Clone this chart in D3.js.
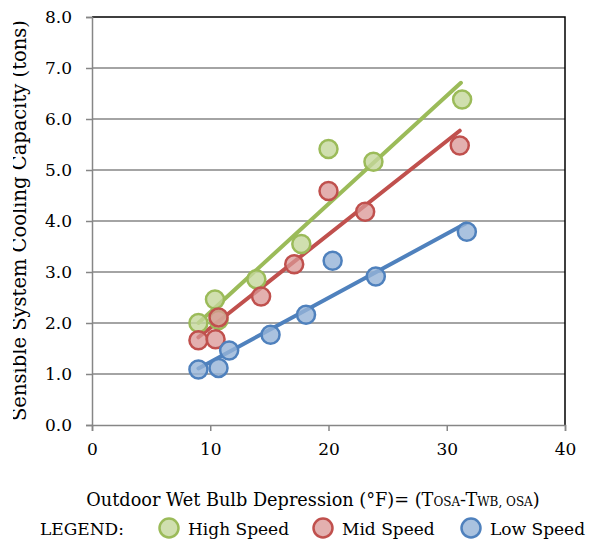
<!DOCTYPE html>
<html>
<head>
<meta charset="utf-8">
<script src="https://cdn.jsdelivr.net/npm/d3@7"></script>
<style>
  body { margin: 0; background: #fff; }
  text { font-family: "DejaVu Serif", serif; fill: #000; }
</style>
</head>
<body>
<script>
// series: x = wet bulb depression (F), y = tons
const highX = [9.0, 10.4, 10.7, 13.9, 17.7, 20.0, 23.8, 31.3];
const highY = [2.0, 2.46, 2.06, 2.86, 3.55, 5.41, 5.16, 6.38];
const midX = [9.0, 10.45, 10.7, 14.3, 17.1, 20.0, 23.1, 31.1];
const midY = [1.66, 1.68, 2.11, 2.52, 3.15, 4.59, 4.18, 5.48];
const lowX = [9.0, 10.7, 11.6, 15.1, 18.1, 20.35, 24.0, 31.7];
const lowY = [1.09, 1.12, 1.46, 1.77, 2.16, 3.22, 2.91, 3.79];

// trend line end points
const highTrend = [[9.0, 2.0], [31.2, 6.71]];
const midTrend = [[9.0, 1.72], [31.1, 5.77]];
const lowTrend = [[9.0, 1.11], [31.6, 3.95]];

const xTicks = [0, 10, 20, 30, 40];
const yTicks = [0, 1, 2, 3, 4, 5, 6, 7, 8];
const seriesNames = ["High Speed", "Mid Speed", "Low Speed"];

const width = 589, height = 542;
const margin = {top: 17, right: 24, bottom: 117, left: 92};

const series = [
  {name: seriesNames[0], xs: highX, ys: highY, trend: highTrend, stroke: "#9bbb59", fill: "rgba(196,215,155,0.8)"},
  {name: seriesNames[1], xs: midX, ys: midY, trend: midTrend, stroke: "#c0504d", fill: "rgba(217,150,148,0.75)"},
  {name: seriesNames[2], xs: lowX, ys: lowY, trend: lowTrend, stroke: "#4f81bd", fill: "rgba(149,179,215,0.8)"}
];

const svg = d3.select("body").append("svg")
    .attr("width", width)
    .attr("height", height);

const x = d3.scaleLinear().domain([0, 40]).range([margin.left, width - margin.right]);
const y = d3.scaleLinear().domain([0, 8]).range([height - margin.bottom, margin.top]);

// gridlines
svg.append("g")
  .selectAll("line")
  .data(yTicks.slice(1, -1))
  .join("line")
    .attr("x1", x(0)).attr("x2", x(40))
    .attr("y1", d => y(d)).attr("y2", d => y(d))
    .attr("stroke", "#868686")
    .attr("stroke-width", 1.5);

// top + right border (black)
svg.append("path")
    .attr("d", `M${x(0)},${y(8)}H${x(40)}V${y(0)}`)
    .attr("fill", "none")
    .attr("stroke", "#000")
    .attr("stroke-width", 1.5);

// y axis
const yAxis = svg.append("g")
    .attr("transform", `translate(${x(0)},0)`)
    .call(d3.axisLeft(y).tickValues(yTicks).tickFormat(d3.format(".1f")).tickSize(6).tickPadding(14));
yAxis.select(".domain").attr("stroke", "#868686").attr("stroke-width", 1.5);
yAxis.selectAll(".tick line").attr("stroke", "#868686").attr("stroke-width", 1.5);
yAxis.selectAll(".tick text").attr("font-size", 17).attr("font-family", "DejaVu Serif");

// x axis
const xAxis = svg.append("g")
    .attr("transform", `translate(0,${y(0)})`)
    .call(d3.axisBottom(x).tickValues(xTicks).tickSize(6).tickPadding(12));
xAxis.select(".domain").attr("stroke", "#868686").attr("stroke-width", 1.5);
xAxis.selectAll(".tick line").attr("stroke", "#868686").attr("stroke-width", 1.5);
xAxis.selectAll(".tick text").attr("font-size", 17).attr("font-family", "DejaVu Serif");

// trend lines
const line = d3.line().x(d => x(d[0])).y(d => y(d[1]));
svg.append("g")
  .selectAll("path")
  .data(series)
  .join("path")
    .attr("d", d => line(d.trend))
    .attr("fill", "none")
    .attr("stroke", d => d.stroke)
    .attr("stroke-width", 4)
    .attr("stroke-linecap", "round");

// points
series.forEach(s => {
  svg.append("g")
    .selectAll("circle")
    .data(s.xs.map((v, i) => [v, s.ys[i]]))
    .join("circle")
      .attr("cx", d => x(d[0]))
      .attr("cy", d => y(d[1]))
      .attr("r", 9)
      .attr("fill", s.fill)
      .attr("stroke", s.stroke)
      .attr("stroke-width", 2.5);
});

// y axis title, tops of the letters are cut off in the original
svg.append("clipPath").attr("id", "ylab-clip")
  .append("rect").attr("x", 13).attr("y", 0).attr("width", 40).attr("height", 430);
svg.append("g")
    .attr("clip-path", "url(#ylab-clip)")
  .append("text")
    .attr("transform", `translate(26,421) rotate(-90)`)
    .attr("font-size", 19.5)
    .text("Sensible System Cooling Capacity (tons)");

// x axis title with subscripts
const xt = svg.append("text")
    .attr("x", 313)
    .attr("y", 506)
    .attr("text-anchor", "middle")
    .attr("font-size", 17.7);
xt.append("tspan").text("Outdoor Wet Bulb Depression (°F)= (T");
xt.append("tspan").attr("font-size", 12).text("OSA");
xt.append("tspan").text("-T");
xt.append("tspan").attr("font-size", 12).text("WB, OSA");
xt.append("tspan").text(")");

// legend
const legendY = 528;
svg.append("text")
    .attr("x", 40)
    .attr("y", legendY + 7)
    .attr("font-size", 17)
    .text("LEGEND:");

const legendX = [169, 323, 471];
const lg = svg.append("g")
  .selectAll("g")
  .data(series)
  .join("g")
    .attr("transform", (d, i) => `translate(${legendX[i]},${legendY})`);
lg.append("circle")
    .attr("r", 9.5)
    .attr("fill", d => d.fill)
    .attr("stroke", d => d.stroke)
    .attr("stroke-width", 2.5);
lg.append("text")
    .attr("x", 19)
    .attr("y", 7)
    .attr("font-size", 17)
    .text(d => d.name);
</script>
</body>
</html>
